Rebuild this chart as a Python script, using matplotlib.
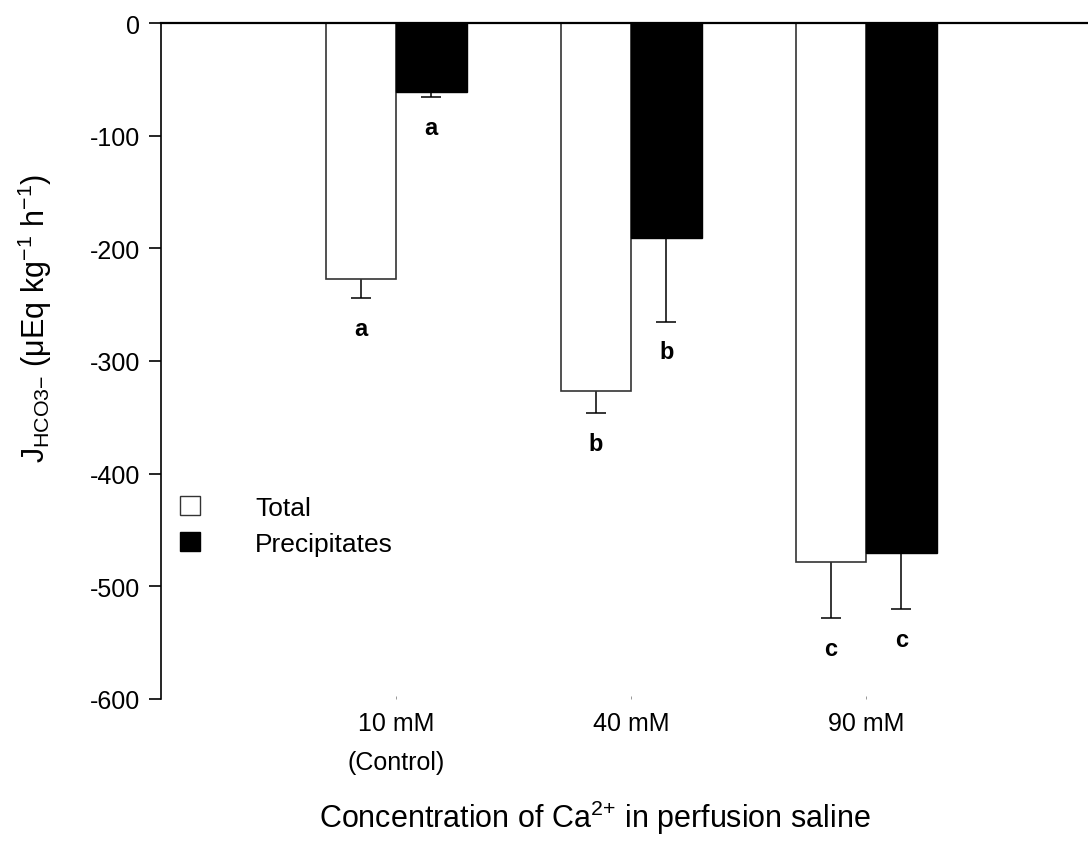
import numpy as np
import matplotlib
matplotlib.use("Agg")
import matplotlib.pyplot as plt
from matplotlib.patches import Patch

plt.rcParams['font.family'] = ['Liberation Sans', 'DejaVu Sans']
plt.rcParams['mathtext.fontset'] = 'custom'
plt.rcParams['mathtext.rm'] = 'Liberation Sans'
plt.rcParams['mathtext.it'] = 'Liberation Sans:italic'
plt.rcParams['mathtext.bf'] = 'Liberation Sans:bold'
plt.rcParams['axes.unicode_minus'] = False

# HCO3- flux per group (mean, SEM) and significance letters
groups = ["10 mM", "40 mM", "90 mM"]
total = [-227, -327, -478]
total_err = [17, 19, 50]
total_sig = ["a", "b", "c"]
precip = [-61, -191, -470]
precip_err = [5, 74, 50]
precip_sig = ["a", "b", "c"]

W, H = 1088, 853
fig = plt.figure(figsize=(W / 100, H / 100), dpi=100)
ax = fig.add_axes([161 / W, (H - 700) / H, (W - 161) / W, 676 / H])

x = np.arange(1, len(groups) + 1)
bw = 0.3

ax.bar(x - bw / 2, total, bw, color="white", edgecolor="#333333", linewidth=1.2, zorder=2)
ax.bar(x + bw / 2, precip, bw, color="black", edgecolor="black", linewidth=1.0, zorder=2)

# error bars sit behind the bars so only the lower half shows
ax.errorbar(x - bw / 2, total, yerr=total_err, fmt="none",
            ecolor="black", elinewidth=1.1, capsize=7, capthick=1.1, zorder=1)
ax.errorbar(x + bw / 2, precip, yerr=precip_err, fmt="none",
            ecolor="black", elinewidth=1.1, capsize=7, capthick=1.1, zorder=1)

for i in range(len(groups)):
    ax.text(x[i] - bw / 2, total[i] - total_err[i] - 27, total_sig[i],
            ha="center", va="center", fontsize=17, fontweight="bold")
    ax.text(x[i] + bw / 2, precip[i] - precip_err[i] - 27, precip_sig[i],
            ha="center", va="center", fontsize=17, fontweight="bold")

ax.set_xlim(0, (W - 161) / 235)
ax.set_ylim(-600, 0)
ax.set_yticks([0, -100, -200, -300, -400, -500, -600])
ax.set_xticks(x)
ax.set_xticklabels(groups)
ax.tick_params(axis="y", direction="out", length=9, width=1.2, labelsize=18, pad=6)
ax.tick_params(axis="x", direction="in", length=2, width=0.6, colors="#888888",
               labelcolor="black", labelsize=18, pad=9)

ax.spines["right"].set_visible(False)
ax.spines["bottom"].set_visible(False)
ax.spines["left"].set_linewidth(1.2)
ax.spines["top"].set_linewidth(1.6)

ax.text(1, -0.093, "(Control)", transform=ax.get_xaxis_transform(),
        ha="center", va="center", fontsize=18)

fig.text(595 / W, 1 - 818 / H, r"Concentration of Ca$^{\mathregular{2{+}}}$ in perfusion saline",
         ha="center", va="center", fontsize=22)
fig.text(35 / W, 1 - 318 / H,
         r"J$_{\mathregular{HCO3{-}}}$ ($\mathregular{\mu}$Eq kg$^{\mathregular{-1}}$ h$^{\mathregular{-1}}$)",
         rotation=90, ha="center", va="center", fontsize=22)

handles = [Patch(facecolor="white", edgecolor="#333333", linewidth=1.0, label="Total"),
           Patch(facecolor="black", edgecolor="black", label="Precipitates")]
ax.legend(handles=handles, loc="upper left", bbox_to_anchor=(180 / W, 1 - 497 / H),
          bbox_transform=fig.transFigure, frameon=False, fontsize=19,
          handlelength=0.75, handleheight=0.75, handletextpad=2.1,
          labelspacing=0.45, borderpad=0, borderaxespad=0)

fig.savefig("out.png", dpi=100)
